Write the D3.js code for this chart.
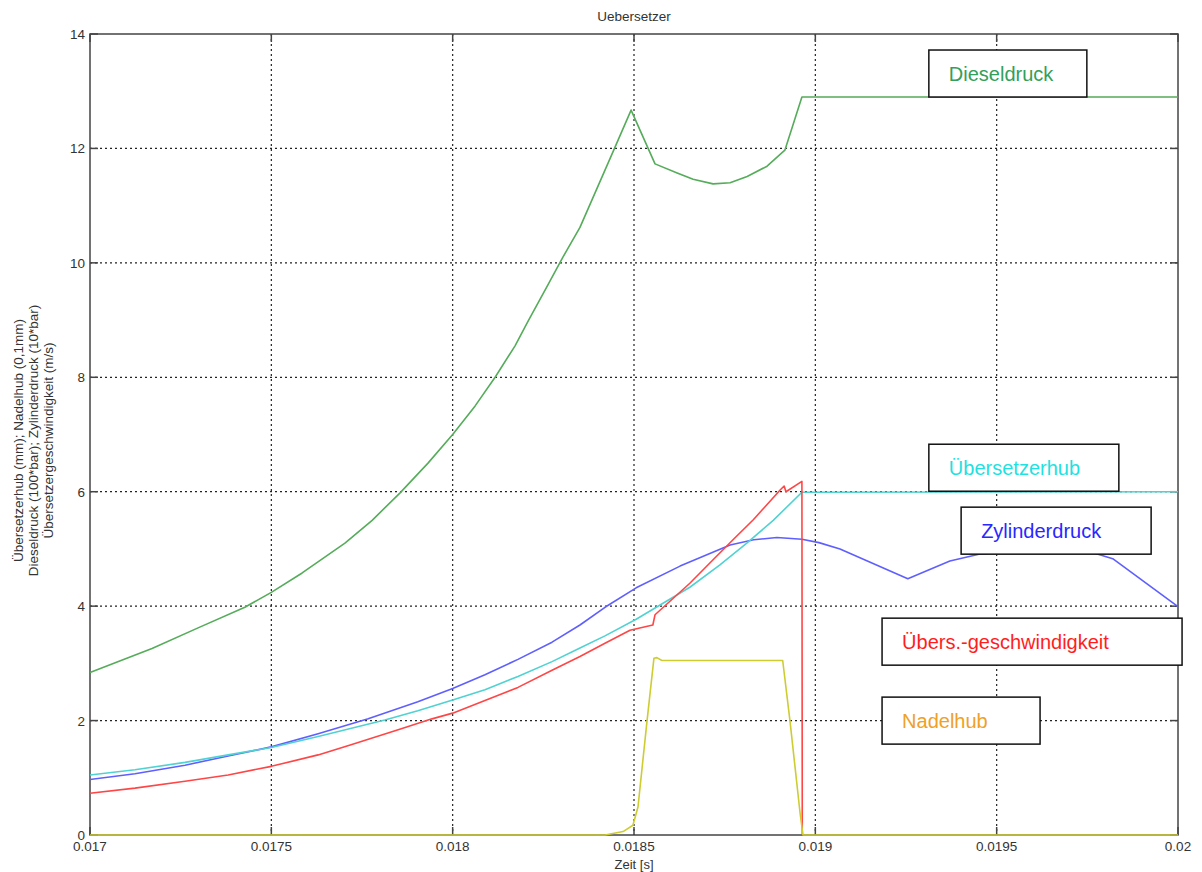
<!DOCTYPE html>
<html>
<head>
<meta charset="utf-8">
<script src="https://cdn.jsdelivr.net/npm/d3@7"></script>
<style>
  body { margin: 0; background: #fff; }
  svg { display: block; font-family: "Liberation Sans", Arial, sans-serif; }
</style>
</head>
<body>
<svg id="chart" width="1202" height="872"></svg>
<script>
// Uebersetzer — time traces

const xTicks = [0.017, 0.0175, 0.018, 0.0185, 0.019, 0.0195, 0.02];
const xTickLabels = ['0.017', '0.0175', '0.018', '0.0185', '0.019', '0.0195', '0.02'];
const yTicks = [0, 2, 4, 6, 8, 10, 12, 14];

// Dieseldruck (100*bar)
const dieselT = [0.017, 0.017171, 0.017298, 0.017427, 0.0175, 0.017585, 0.017703, 0.017778, 0.017855, 0.017932, 0.018, 0.018062, 0.018117, 0.018172, 0.018208, 0.018263, 0.018304, 0.018351, 0.018442, 0.018492, 0.018558, 0.018619, 0.018663, 0.018718, 0.018765, 0.018812, 0.018867, 0.018916, 0.018963, 0.02];
const dieselV = [2.84, 3.26, 3.62, 3.98, 4.24, 4.58, 5.1, 5.5, 5.98, 6.5, 7.0, 7.5, 8.0, 8.55, 8.98, 9.62, 10.1, 10.62, 11.94, 12.67, 11.73, 11.57, 11.46, 11.38, 11.40, 11.51, 11.69, 11.97, 12.9, 12.9];

// Zylinderdruck (10*bar)
const zylT = [0.017, 0.017124, 0.017262, 0.017381, 0.0175, 0.017629, 0.017767, 0.017904, 0.018, 0.018089, 0.01818, 0.018274, 0.018351, 0.01842, 0.018506, 0.018627, 0.018765, 0.01883, 0.018894, 0.018963, 0.01901, 0.019068, 0.019255, 0.019371, 0.019454, 0.019619, 0.019757, 0.01982, 0.02];
const zylV = [0.97, 1.07, 1.22, 1.38, 1.54, 1.77, 2.03, 2.33, 2.56, 2.80, 3.07, 3.37, 3.67, 3.98, 4.32, 4.70, 5.07, 5.16, 5.2, 5.17, 5.11, 5.0, 4.48, 4.79, 4.91, 5.0, 4.95, 4.83, 3.99];

// Übersetzerhub (mm)
const hubT = [0.017, 0.017124, 0.017262, 0.017381, 0.0175, 0.017629, 0.017813, 0.017904, 0.018, 0.018089, 0.01818, 0.018274, 0.018351, 0.01842, 0.018506, 0.018654, 0.018737, 0.018811, 0.018884, 0.018963, 0.02];
const hubV = [1.05, 1.14, 1.27, 1.40, 1.53, 1.72, 2.01, 2.17, 2.36, 2.54, 2.77, 3.03, 3.27, 3.48, 3.77, 4.33, 4.72, 5.1, 5.5, 5.99, 6.0];

// Übersetzergeschwindigkeit (m/s)
const geschT = [0.017, 0.017124, 0.017262, 0.017381, 0.0175, 0.017629, 0.017722, 0.017854, 0.017943, 0.018, 0.018089, 0.01818, 0.018274, 0.018351, 0.01842, 0.018489, 0.018552, 0.018558, 0.018654, 0.018718, 0.018773, 0.018829, 0.018903, 0.018914, 0.018919, 0.018963, 0.018964];
const geschV = [0.73, 0.82, 0.94, 1.05, 1.2, 1.40, 1.58, 1.85, 2.03, 2.13, 2.35, 2.58, 2.88, 3.12, 3.35, 3.58, 3.67, 3.85, 4.40, 4.81, 5.16, 5.51, 6.03, 6.10, 6.0, 6.18, 0];

// Nadelhub (0,1mm)
const nadelT = [0.017, 0.01842, 0.01847, 0.018497, 0.018511, 0.018536, 0.018555, 0.018563, 0.018577, 0.01891, 0.01893, 0.018958, 0.018966, 0.02];
const nadelV = [0, 0, 0.06, 0.17, 0.49, 2.0, 3.09, 3.10, 3.05, 3.05, 2.0, 0.38, 0, 0];

const seriesNames = ['Dieseldruck', 'Übersetzerhub', 'Zylinderdruck', 'Übers.-geschwindigkeit', 'Nadelhub'];

(function chart(){
  const svg = d3.select('#chart');
  const left = 90, right = 1178, top = 34, bottom = 835;

  const x = d3.scaleLinear().domain([0.017, 0.02]).range([left, right]);
  const y = d3.scaleLinear().domain([0, 14]).range([bottom, top]);

  const axisColor = '#444';

  // grid (dotted)
  const grid = svg.append('g');
  grid.selectAll('line.vx')
    .data(xTicks.slice(1, -1))
    .join('line')
      .attr('x1', d => x(d)).attr('x2', d => x(d))
      .attr('y1', top).attr('y2', bottom)
      .attr('stroke', '#222').attr('stroke-width', 1.2)
      .attr('stroke-dasharray', '2,3');
  grid.selectAll('line.hy')
    .data(yTicks.slice(1, -1))
    .join('line')
      .attr('x1', left).attr('x2', right)
      .attr('y1', d => y(d)).attr('y2', d => y(d))
      .attr('stroke', '#222').attr('stroke-width', 1.2)
      .attr('stroke-dasharray', '2,3');

  // frame + ticks (inside, all four sides)
  const frame = svg.append('g');
  frame.append('rect')
    .attr('x', left).attr('y', top)
    .attr('width', right - left).attr('height', bottom - top)
    .attr('fill', 'none').attr('stroke', axisColor).attr('stroke-width', 1.5);

  const tl = 8;
  frame.selectAll('line.xb').data(xTicks).join('line')
    .attr('x1', d => x(d)).attr('x2', d => x(d))
    .attr('y1', bottom).attr('y2', bottom - tl)
    .attr('stroke', axisColor).attr('stroke-width', 1.5);
  frame.selectAll('line.xt').data(xTicks).join('line')
    .attr('x1', d => x(d)).attr('x2', d => x(d))
    .attr('y1', top).attr('y2', top + tl)
    .attr('stroke', axisColor).attr('stroke-width', 1.5);
  frame.selectAll('line.yl').data(yTicks).join('line')
    .attr('x1', left).attr('x2', left + tl)
    .attr('y1', d => y(d)).attr('y2', d => y(d))
    .attr('stroke', axisColor).attr('stroke-width', 1.5);
  frame.selectAll('line.yr').data(yTicks).join('line')
    .attr('x1', right).attr('x2', right - tl)
    .attr('y1', d => y(d)).attr('y2', d => y(d))
    .attr('stroke', axisColor).attr('stroke-width', 1.5);

  // tick labels
  svg.append('g').selectAll('text').data(xTicks).join('text')
    .attr('x', d => x(d)).attr('y', bottom + 16)
    .attr('text-anchor', 'middle')
    .attr('font-size', 13.5).attr('fill', '#333')
    .text((d, i) => xTickLabels[i]);
  svg.append('g').selectAll('text').data(yTicks).join('text')
    .attr('x', left - 5).attr('y', d => y(d) + 5)
    .attr('text-anchor', 'end')
    .attr('font-size', 13.5).attr('fill', '#333')
    .text(d => d);

  // title and axis labels
  svg.append('text')
    .attr('x', (left + right) / 2).attr('y', 21)
    .attr('text-anchor', 'middle').attr('font-size', 13.5).attr('fill', '#333')
    .text('Uebersetzer');
  svg.append('text')
    .attr('x', (left + right) / 2).attr('y', 869)
    .attr('text-anchor', 'middle').attr('font-size', 13).attr('fill', '#333')
    .text('Zeit [s]');

  const yLab = ['Übersetzerhub (mm); Nadelhub (0,1mm)',
                'Dieseldruck (100*bar); Zylinderdruck (10*bar)',
                'Übersetzergeschwindigkeit (m/s)'];
  const yMid = (top + bottom) / 2 + 6;
  svg.append('g').selectAll('text').data(yLab).join('text')
    .attr('transform', (d, i) => `translate(${23 + i * 15},${yMid}) rotate(-90)`)
    .attr('text-anchor', 'middle').attr('font-size', 13.5).attr('fill', '#333')
    .text(d => d);

  // series
  const series = [
    { t: dieselT, v: dieselV, color: 'rgb(85,172,90)' },
    { t: zylT, v: zylV, color: 'rgb(95,95,255)' },
    { t: hubT, v: hubV, color: 'rgb(80,210,210)' },
    { t: geschT, v: geschV, color: 'rgb(255,70,70)' },
    { t: nadelT, v: nadelV, color: 'rgb(205,205,50)' }
  ];
  const line = d3.line().x(d => x(d[0])).y(d => y(d[1]));
  svg.append('g').selectAll('path').data(series).join('path')
    .attr('d', s => line(s.t.map((t, i) => [t, s.v[i]])))
    .attr('fill', 'none')
    .attr('stroke', s => s.color)
    .attr('stroke-width', 1.6)
    .attr('stroke-linejoin', 'round');

  // labelled boxes (top-left corner in data coordinates)
  const boxes = [
    { name: seriesNames[0], t: 0.019313, v: 13.72, w: 158, color: 'rgb(50,160,90)' },
    { name: seriesNames[1], t: 0.019313, v: 6.83, w: 190, color: 'rgb(30,225,225)' },
    { name: seriesNames[2], t: 0.019402, v: 5.73, w: 190, color: 'rgb(40,40,255)' },
    { name: seriesNames[3], t: 0.019184, v: 3.79, w: 300, color: 'rgb(255,30,30)' },
    { name: seriesNames[4], t: 0.019184, v: 2.41, w: 158, color: 'rgb(240,160,40)' }
  ];
  const bh = 47;
  const bg = svg.append('g').selectAll('g').data(boxes).join('g')
    .attr('transform', d => `translate(${x(d.t)},${y(d.v)})`);
  bg.append('rect')
    .attr('width', d => d.w).attr('height', bh)
    .attr('fill', '#fff').attr('stroke', '#111').attr('stroke-width', 1.5);
  bg.append('text')
    .attr('x', 20).attr('y', bh / 2 + 7)
    .attr('font-size', 20)
    .attr('fill', d => d.color)
    .text(d => d.name);
})();
</script>
</body>
</html>
